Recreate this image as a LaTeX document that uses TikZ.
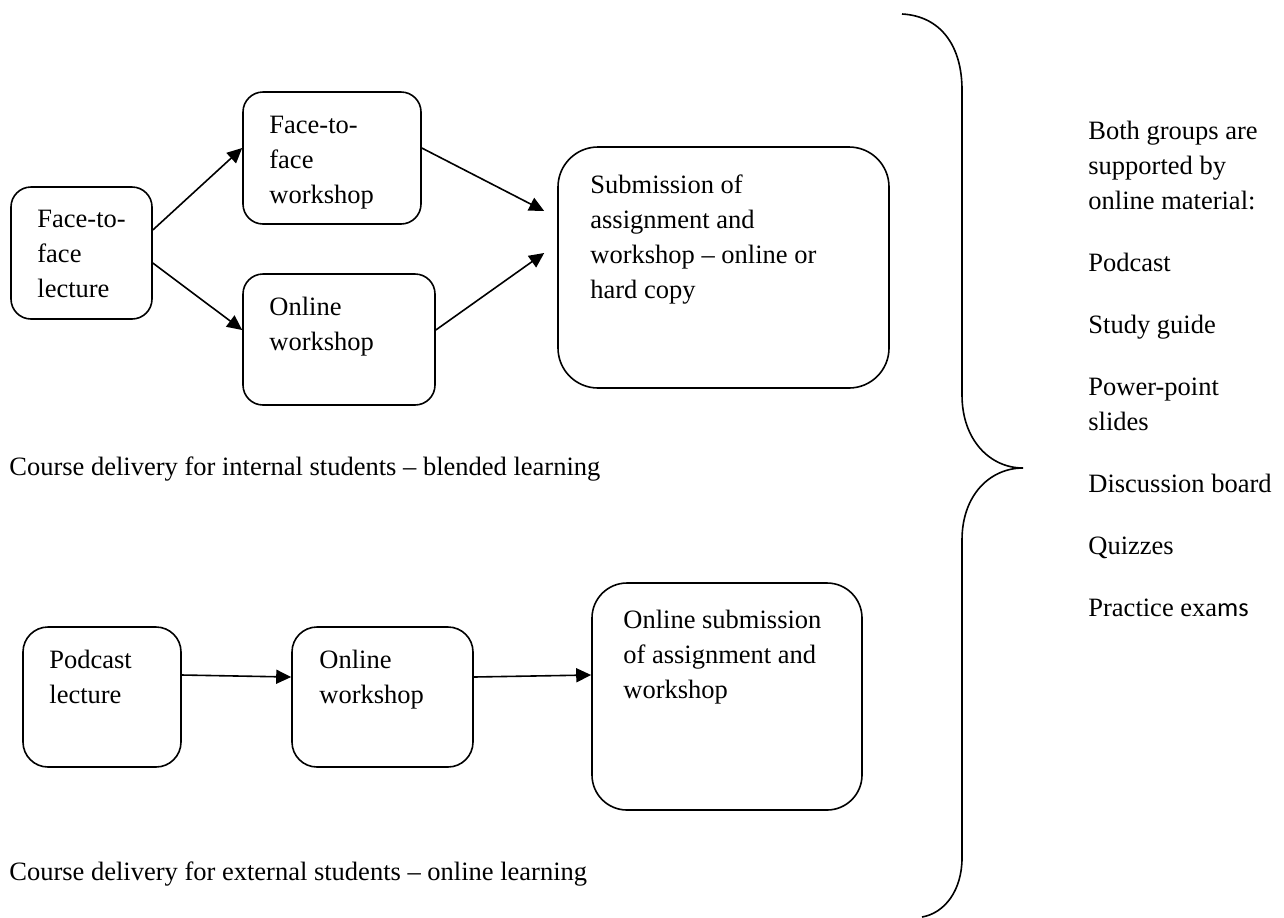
\documentclass[tikz,border=0pt]{standalone}
\usepackage{fontspec}
\setmainfont{Liberation Serif}
\newfontfamily\calibrilike{Carlito}
\usetikzlibrary{arrows.meta,calc}
\begin{document}
\begin{tikzpicture}[x=0.5pt,y=-0.5pt,
  box/.style={draw,line width=0.8pt,rounded corners=#1,inner sep=0pt},
  box/.default=10pt,
  txt/.style={anchor=base west,inner sep=0pt,align=left,font=\fontsize{13.25pt}{17.5pt}\selectfont},
  arr/.style={line width=0.8pt,-{Triangle[length=7.5pt,width=7pt]}},
  brace/.style={line width=0.8pt}]
\useasboundingbox (0,0) rectangle (1284,917);

% internal students (text nodes are placed at the baseline of their last line)
\node[box=10pt,minimum width=70.5pt,minimum height=66pt] (lec) at (81.5,253) {};
\node[box=10pt,minimum width=89pt,minimum height=66pt] (fw) at (332,158) {};
\node[box=10pt,minimum width=96pt,minimum height=65.5pt] (ow) at (339,339.5) {};
\node[box=20pt,minimum width=165.5pt,minimum height=120.5pt] (sub) at (723.5,267.5) {};

\node[txt] (lect) at (37,297) {Face-to-\\face\\lecture};
\node[txt] (fwt) at (269,203) {Face-to-\\face\\workshop};
\node[txt] (owt) at (269,350) {Online\\workshop};
\node[txt] (subt) at (590,298) {Submission of\\assignment and\\workshop -- online or\\hard copy};

\draw[arr] ($(lec.east)+(0,-23)$) -- ($(fw.west)+(0,-10)$);
\draw[arr] ($(lec.east)+(0,10)$) -- ($(ow.west)+(0,-9.5)$);
\draw[arr] ($(fw.east)+(0,-10)$) -- ($(sub.west)+(-13,-56.5)$);
\draw[arr] ($(ow.east)+(0,-9.5)$) -- ($(sub.west)+(-13,-14.5)$);

\node[txt] (cap1) at (9,475) {Course delivery for internal students -- blended learning};

% external students
\node[box=12.5pt,minimum width=79pt,minimum height=70pt] (pod) at (102,697) {};
\node[box=12.5pt,minimum width=90.5pt,minimum height=70pt] (ow2) at (382.5,697) {};
\node[box=17.5pt,minimum width=135pt,minimum height=113.5pt] (osub) at (727,696.5) {};

\node[txt] (podt) at (49,703) {Podcast\\lecture};
\node[txt] (ow2t) at (319,703) {Online\\workshop};
\node[txt] (osubt) at (623,698) {Online submission\\of assignment and\\workshop};

\draw[arr] ($(pod.east)+(0,-22)$) -- ($(ow2.west)+(0,-20)$);
\draw[arr] ($(ow2.east)+(0,-20)$) -- ($(osub.west)+(0,-21.5)$);

\node[txt] (cap2) at (9,880) {Course delivery for external students -- online learning};

% brace
\coordinate (btop) at (902,14);
\coordinate (btip) at (1023,468);
\coordinate (bbot) at (922,917);
\draw[brace] (btop) .. controls (940,16) and (962,45) .. (962,90)
  -- (962,395) .. controls (962,440) and (990,468) .. (btip)
  .. controls (990,468) and (962,495) .. (962,540)
  -- (962,858) .. controls (962,890) and (945,913) .. (bbot);

\node[txt] (mat) at (1088,616) {Both groups are\\supported by\\online material:\\[13.5pt]Podcast\\[13.5pt]Study guide\\[13.5pt]Power-point\\slides\\[13.5pt]Discussion board\\[13.5pt]Quizzes\\[13.5pt]Practice exa{\calibrilike ms}};
\end{tikzpicture}
\end{document}
